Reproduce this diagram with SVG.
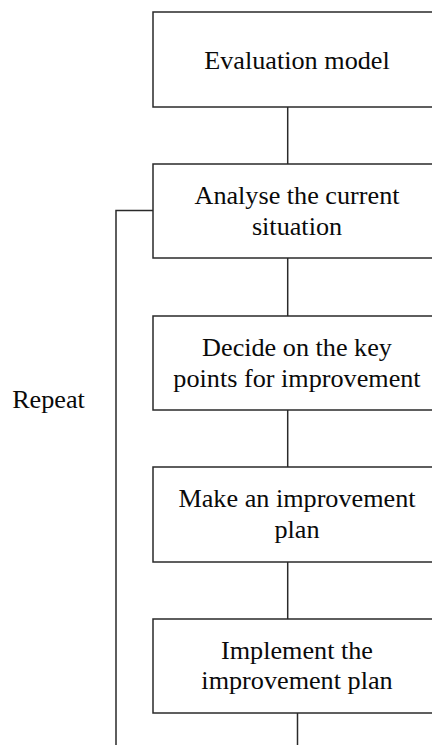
<svg xmlns="http://www.w3.org/2000/svg" width="432" height="745" viewBox="0 0 432 745">
<style>
.box{fill:#fff;stroke:#2a2a2a;stroke-width:1.5}
.t{font-family:"Liberation Serif","Times New Roman",serif;font-size:26.2px;fill:#0a0a0a;text-anchor:middle}
.c{fill:none;stroke:#2a2a2a;stroke-width:1.5}
</style>
<rect width="432" height="745" fill="#fff"/>
<g id="connectors">
<line class="c" x1="287.7" y1="107" x2="287.7" y2="164"/>
<line class="c" x1="287.7" y1="258" x2="287.7" y2="316"/>
<line class="c" x1="287.7" y1="410" x2="287.7" y2="467"/>
<line class="c" x1="287.7" y1="562" x2="287.7" y2="619"/>
<line class="c" x1="297.5" y1="713" x2="297.5" y2="745"/>
<polyline class="c" points="153,210.5 116,210.5 116,745"/>
</g>
<g id="n1"><rect class="box" x="153" y="12" width="292" height="95"/><text class="t" x="297" y="69">Evaluation model</text></g>
<g id="n2"><rect class="box" x="153" y="164" width="292" height="94"/><text class="t" x="297" y="204">Analyse the current</text><text class="t" x="297" y="235">situation</text></g>
<g id="n3"><rect class="box" x="153" y="316" width="292" height="94"/><text class="t" x="297" y="356">Decide on the key</text><text class="t" x="297" y="387">points for improvement</text></g>
<g id="n4"><rect class="box" x="153" y="467" width="292" height="95"/><text class="t" x="297" y="507">Make an improvement</text><text class="t" x="297" y="538">plan</text></g>
<g id="n5"><rect class="box" x="153" y="619" width="292" height="94"/><text class="t" x="297" y="659">Implement the</text><text class="t" x="297" y="689">improvement plan</text></g>
<g id="repeat"><text class="t" x="48.5" y="408">Repeat</text></g>
</svg>
